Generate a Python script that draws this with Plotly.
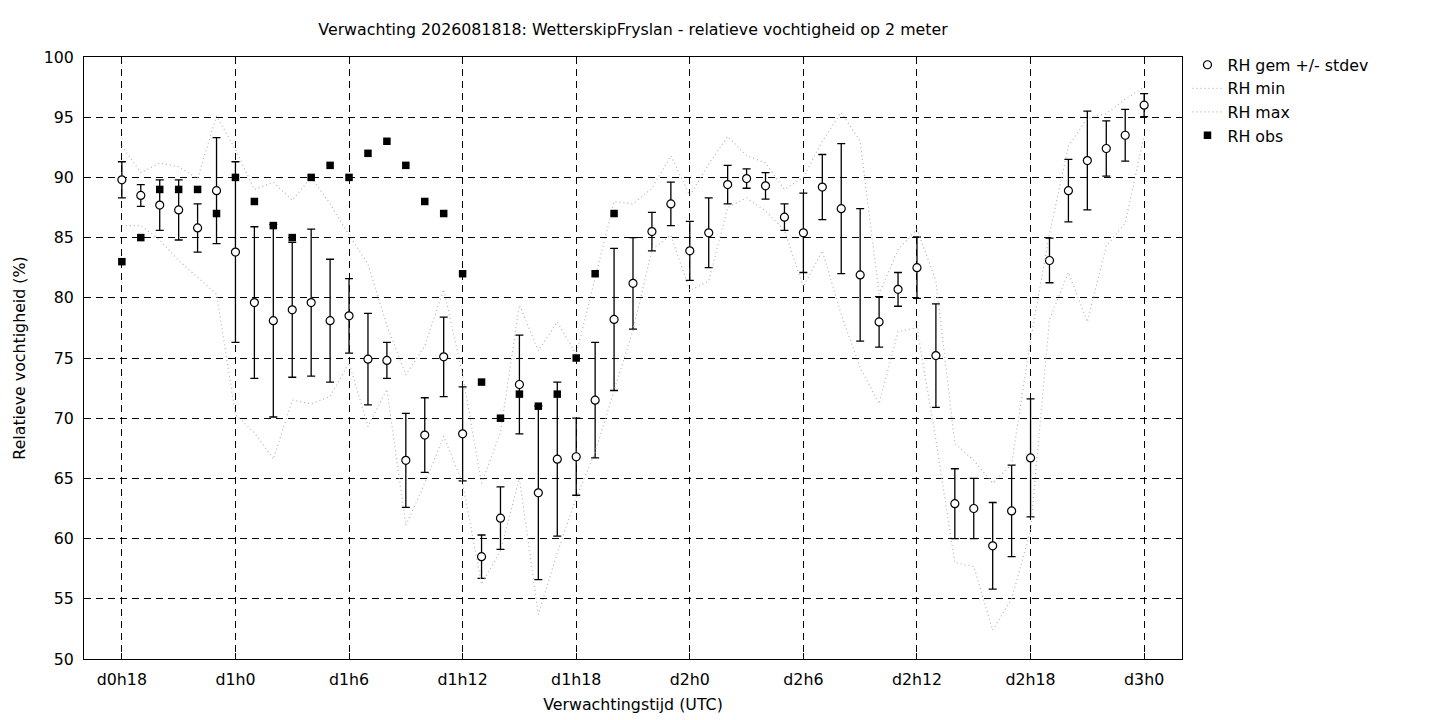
import plotly.graph_objects as go

# forecast hours since d0h0 (one point per hour)
uur = [18, 19, 20, 21, 22, 23, 24, 25, 26, 27, 28, 29, 30, 31, 32, 33, 34, 35, 36,
       37, 38, 39, 40, 41, 42, 43, 44, 45, 46, 47, 48, 49, 50, 51, 52, 53, 54, 55,
       56, 57, 58, 59, 60, 61, 62, 63, 64, 65, 66, 67, 68, 69, 70, 71, 72]

rh_gem = [89.8, 88.5, 87.7, 87.3, 85.8, 88.9, 83.8, 79.6, 78.1, 79.0, 79.6, 78.1,
          78.5, 74.9, 74.8, 66.5, 68.6, 75.1, 68.7, 58.5, 61.7, 72.8, 63.8, 66.6,
          66.8, 71.5, 78.2, 81.2, 85.5, 87.8, 83.9, 85.4, 89.4, 89.9, 89.3, 86.7,
          85.4, 89.2, 87.4, 81.9, 78.0, 80.7, 82.5, 75.2, 62.9, 62.5, 59.4, 62.3,
          66.7, 83.1, 88.9, 91.4, 92.4, 93.5, 96.0]

rh_stdev = [1.5, 0.9, 2.1, 2.5, 2.0, 4.4, 7.5, 6.3, 8.0, 5.6, 6.1, 5.1,
            3.1, 3.8, 1.5, 3.9, 3.1, 3.3, 3.9, 1.8, 2.6, 4.1, 7.2, 6.4,
            3.2, 4.8, 5.9, 3.8, 1.6, 1.8, 2.45, 2.9, 1.6, 0.8, 1.1, 1.1,
            3.3, 2.7, 5.4, 5.5, 2.1, 1.4, 2.55, 4.3, 2.9, 2.5, 3.6, 3.8,
            4.9, 1.85, 2.6, 4.1, 2.3, 2.15, 0.95]

rh_min = [86.0, 86.0, 84.8, 83.1, 81.7, 80.3, 70.3, 68.8, 66.6, 71.5, 71.2, 71.8,
          74.6, 69.3, 72.4, 61.1, 64.6, 68.5, 64.6, 56.2, 59.0, 65.0, 53.7, 58.8,
          63.4, 67.2, 72.3, 77.3, 84.0, 85.2, 80.6, 81.4, 87.5, 88.3, 87.2, 85.6,
          80.9, 83.9, 78.6, 74.2, 71.2, 77.2, 77.5, 68.2, 58.0, 57.7, 52.4, 55.0,
          60.7, 78.2, 82.1, 78.0, 84.3, 86.2, 93.5]

rh_max = [92.6, 90.4, 91.2, 90.9, 89.9, 95.1, 92.3, 89.0, 89.6, 88.1, 90.0, 87.8,
          85.2, 82.8, 77.7, 73.6, 76.0, 80.7, 73.6, 64.6, 68.8, 79.4, 75.6, 78.0,
          75.3, 81.6, 88.0, 87.8, 89.1, 91.8, 88.5, 91.1, 93.4, 91.8, 91.2, 89.0,
          90.0, 93.0, 95.4, 93.0, 80.3, 84.0, 85.7, 81.4, 67.9, 66.5, 64.6, 66.2,
          76.5, 85.3, 92.6, 94.9, 95.3, 96.5, 97.5]

obs_uur = [18, 19, 20, 21, 22, 23, 24, 25, 26, 27, 28, 29, 30, 31, 32, 33, 34, 35,
           36, 37, 38, 39, 40, 41, 42, 43, 44]
rh_obs = [83, 85, 89, 89, 89, 87, 90, 88, 86, 85, 90, 91, 90, 92, 93, 91, 88, 87,
          82, 73, 70, 72, 71, 72, 75, 82, 87]

tick_uur = [18, 24, 30, 36, 42, 48, 54, 60, 66, 72]
tick_labels = ["d0h18", "d1h0", "d1h6", "d1h12", "d1h18", "d2h0", "d2h6",
               "d2h12", "d2h18", "d3h0"]

fs = 15.8

fig = go.Figure()

fig.add_trace(go.Scatter(
    x=uur, y=rh_gem, mode="markers", name="RH gem +/- stdev",
    marker=dict(symbol="circle", size=8, color="white",
                line=dict(color="black", width=1.2)),
    error_y=dict(type="data", array=rh_stdev, visible=True,
                 color="black", thickness=1.3, width=4)))

fig.add_trace(go.Scatter(
    x=uur, y=rh_min, mode="lines", name="RH min",
    line=dict(color="#b4b4b4", width=1.2, dash="1px,3px")))

fig.add_trace(go.Scatter(
    x=uur, y=rh_max, mode="lines", name="RH max",
    line=dict(color="#b4b4b4", width=1.2, dash="1px,3px")))

fig.add_trace(go.Scatter(
    x=obs_uur, y=rh_obs, mode="markers", name="RH obs",
    marker=dict(symbol="square", size=7.5, color="black")))

axis_style = dict(
    showline=True, linecolor="black", linewidth=1, mirror="allticks",
    ticks="inside", ticklen=6, tickcolor="black",
    showgrid=True, gridcolor="black", gridwidth=1, griddash="7px,5px",
    zeroline=False, tickfont=dict(size=fs, color="black"),
)

fig.update_layout(
    width=1440, height=720,
    margin=dict(l=76, r=266, t=49, b=69),
    paper_bgcolor="white", plot_bgcolor="white",
    font=dict(family="DejaVu Sans", size=fs, color="black"),
    title=dict(text="Verwachting 2026081818: WetterskipFryslan - relatieve vochtigheid op 2 meter",
               x=0.5, xref="paper", xanchor="center",
               y=1 - 21 / 720, yanchor="middle", font=dict(size=fs)),
    xaxis=dict(range=[16, 74], tickvals=tick_uur, ticktext=tick_labels,
               ticklabelstandoff=6,
               title=dict(text="Verwachtingstijd (UTC)", standoff=10,
                          font=dict(size=fs)), **axis_style),
    yaxis=dict(range=[50, 100], dtick=5, ticklabelstandoff=6,
               title=dict(text="Relatieve vochtigheid (%)", standoff=14,
                          font=dict(size=fs)), **axis_style),
    legend=dict(x=1.005, y=1.015, xanchor="left", yanchor="top",
                bgcolor="rgba(0,0,0,0)", font=dict(size=fs),
                tracegroupgap=0),
    showlegend=True,
)

fig.write_html("out.html")
